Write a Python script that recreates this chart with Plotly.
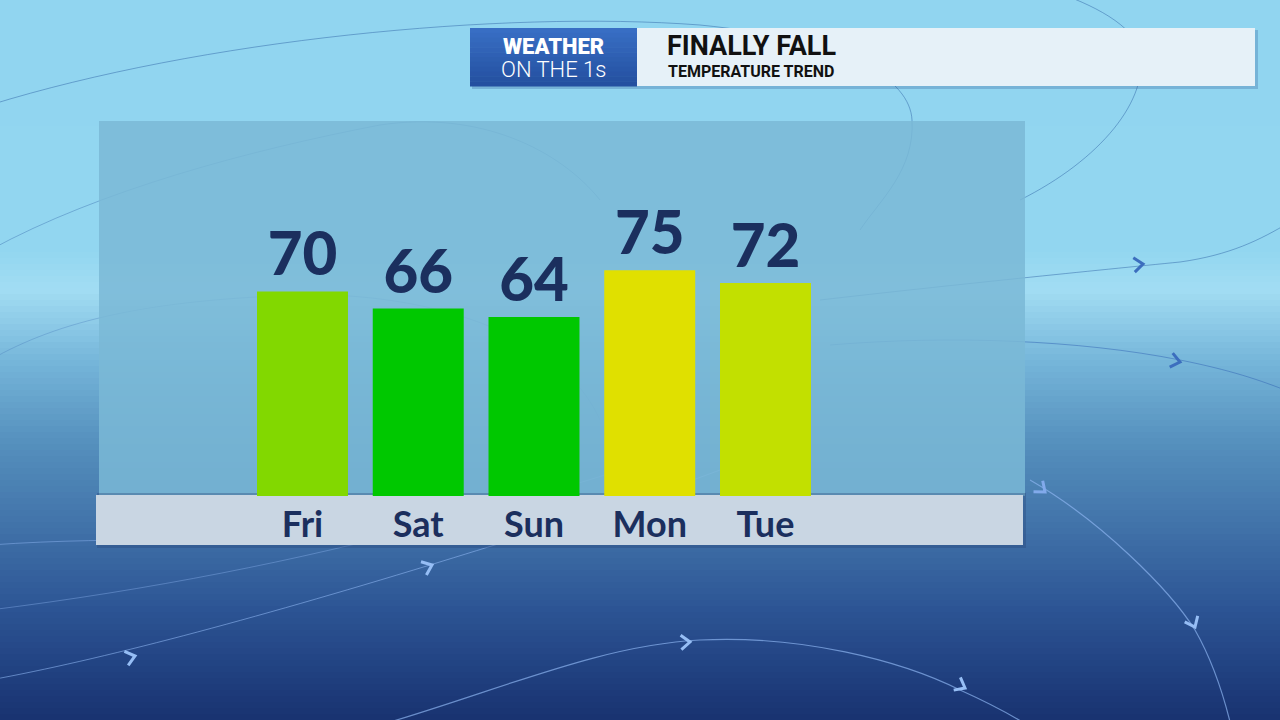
import math
import plotly.graph_objects as go

days = ["Fri", "Sat", "Sun", "Mon", "Tue"]
temps = [70, 66, 64, 75, 72]
bar_colors = ["#82d800", "#00c800", "#00c800", "#e0e000", "#c2e000"]
title_main = "FINALLY FALL"
title_sub = "TEMPERATURE TREND"
brand_top = "WEATHER"
brand_bottom = "ON THE 1s"

W, H = 1280, 720
NAVY = "#1b2f5e"

def px(x):
    return x / W

def py(y):
    return 1 - y / H

def lerp(c1, c2, t):
    return tuple(int(round(a + (b - a) * t)) for a, b in zip(c1, c2))

# background gradient stops (pixel y, rgb)
stops = [(0, (145, 213, 240)), (250, (146, 214, 240)), (290, (162, 221, 243)),
         (360, (118, 182, 218)), (440, (86, 145, 190)), (530, (64, 113, 168)),
         (610, (44, 84, 148)), (720, (24, 50, 112))]

# decorations live on the first (hidden, full-frame) subplot x/y in pixel units
shapes = []
step = 6
for y0 in range(0, H, step):
    ym = y0 + step / 2
    for i in range(len(stops) - 1):
        if stops[i][0] <= ym <= stops[i + 1][0]:
            t = (ym - stops[i][0]) / (stops[i + 1][0] - stops[i][0])
            c = lerp(stops[i][1], stops[i + 1][1], t)
            break
    shapes.append(dict(type="rect", xref="x", yref="y", layer="below",
                       x0=-5, x1=W + 5, y0=y0, y1=y0 + step + 0.5,
                       fillcolor="rgb(%d,%d,%d)" % c, line=dict(width=0)))

streams = [
    ("M -10 105 C 200 40, 500 10, 700 25 C 850 40, 910 80, 912 120 C 915 170, 880 200, 860 230", "rgba(40,90,160,0.45)", 1),
    ("M -10 250 C 100 190, 250 150, 380 125 C 480 110, 560 150, 600 200", "rgba(40,90,160,0.35)", 1),
    ("M -10 360 C 60 320, 150 300, 300 295 C 420 292, 560 330, 600 420", "rgba(60,110,180,0.3)", 1),
    ("M 1020 200 C 1100 160, 1150 100, 1140 50 C 1130 20, 1080 0, 1050 -10", "rgba(40,90,160,0.45)", 1),
    ("M 820 300 C 950 285, 1100 270, 1180 262 C 1230 255, 1260 240, 1290 222", "rgba(40,90,160,0.45)", 1),
    ("M 830 345 C 950 335, 1080 340, 1180 360 C 1230 370, 1260 380, 1290 392", "rgba(50,100,180,0.5)", 1),
    ("M -10 680 C 100 660, 250 620, 430 565 C 560 525, 640 500, 720 470", "rgba(140,180,240,0.6)", 1),
    ("M -10 610 C 150 590, 300 560, 430 525 C 500 505, 560 490, 620 470", "rgba(140,180,240,0.4)", 1),
    ("M 380 725 C 500 690, 600 645, 700 640 C 800 635, 900 660, 960 690 C 1000 708, 1020 720, 1035 730", "rgba(140,180,240,0.7)", 1.2),
    ("M 1030 480 C 1100 520, 1170 590, 1195 630 C 1215 665, 1225 700, 1232 730", "rgba(140,180,240,0.7)", 1.2),
    ("M -10 545 C 60 540, 120 540, 180 540", "rgba(140,180,240,0.5)", 1),
]
for path, col, w in streams:
    shapes.append(dict(type="path", xref="x", yref="y", layer="below", path=path,
                       line=dict(color=col, width=w)))

arrows = [(135, 656, -15, (150, 190, 245)), (432, 565, -22, (150, 190, 245)),
          (690, 642, -3, (150, 190, 245)), (965, 688, 28, (150, 190, 245)),
          (1195, 627, 65, (150, 190, 245)), (1045, 492, 40, (130, 170, 235)),
          (1180, 362, 12, (60, 110, 190)), (1143, 264, -6, (60, 110, 190))]
for ax_, ay_, ang, col in arrows:
    a = math.radians(ang)
    s = 9
    def rot(dx, dy):
        return ax_ + dx * math.cos(a) - dy * math.sin(a), ay_ + dx * math.sin(a) + dy * math.cos(a)
    p1 = rot(-s, -s * 0.8)
    p2 = rot(0, 0)
    p3 = rot(-s, s * 0.8)
    shapes.append(dict(type="path", xref="x", yref="y", layer="below",
                       path="M %.1f %.1f L %.1f %.1f L %.1f %.1f" % (p1 + p2 + p3),
                       line=dict(color="rgb(%d,%d,%d)" % col, width=3)))

# chart panel
shapes.append(dict(type="rect", xref="x", yref="y", layer="below",
                   x0=99, x1=1025, y0=121, y1=496,
                   fillcolor="rgba(122,184,214,0.85)", line=dict(width=0)))
# label strip shadow + strip
shapes.append(dict(type="rect", xref="x", yref="y", layer="below",
                   x0=97, x1=1026, y0=493, y1=548,
                   fillcolor="rgba(40,70,120,0.35)", line=dict(width=0)))
shapes.append(dict(type="rect", xref="x", yref="y", layer="below",
                   x0=96, x1=1023, y0=495, y1=545,
                   fillcolor="#c9d6e3", line=dict(width=0)))

# header
shapes.append(dict(type="rect", xref="paper", yref="paper", layer="above",
                   x0=px(472), x1=px(1258), y0=py(89), y1=py(30),
                   fillcolor="rgba(40,80,140,0.25)", line=dict(width=0)))
shapes.append(dict(type="rect", xref="paper", yref="paper", layer="above",
                   x0=px(637), x1=px(1255), y0=py(86), y1=py(28),
                   fillcolor="#e6f1f8", line=dict(width=0)))
for i in range(12):
    y0 = 28 + i * 58 / 12
    c = lerp((56, 110, 196), (36, 80, 160), i / 11)
    shapes.append(dict(type="rect", xref="paper", yref="paper", layer="above",
                       x0=px(470), x1=px(637), y0=py(y0 + 58 / 12 + 0.5), y1=py(y0),
                       fillcolor="rgb(%d,%d,%d)" % c, line=dict(width=0)))

fig = go.Figure()
fig.add_trace(go.Scatter(x=[0, W], y=[0, H], xaxis="x", yaxis="y", mode="markers",
                         marker=dict(opacity=0), hoverinfo="skip", showlegend=False))
fig.add_trace(go.Bar(
    x=days, y=temps, xaxis="x2", yaxis="y2",
    marker=dict(color=bar_colors, line=dict(width=0)),
    text=[str(t) for t in temps], textposition="outside", constraintext="none",
    cliponaxis=False,
    textfont=dict(family="Lato", size=60, color=NAVY, weight=900),
    hoverinfo="skip",
))

annotations = [
    dict(text=brand_top, x=px(553), y=py(47), xref="paper", yref="paper", showarrow=False,
         font=dict(family="Roboto", size=22, color="white", weight=900), xanchor="center", yanchor="middle"),
    dict(text=brand_bottom, x=px(553), y=py(70), xref="paper", yref="paper", showarrow=False,
         font=dict(family="Roboto", size=22, color="white", weight=300), xanchor="center", yanchor="middle"),
    dict(text=title_main, x=px(665), y=py(46), xref="paper", yref="paper", showarrow=False,
         font=dict(family="Roboto", size=27, color="#111111", weight=700), xanchor="left", yanchor="middle"),
    dict(text=title_sub, x=px(666), y=py(72), xref="paper", yref="paper", showarrow=False,
         font=dict(family="Roboto", size=16, color="#111111", weight=700), xanchor="left", yanchor="middle"),
]

fig.update_layout(
    width=W, height=H, margin=dict(l=0, r=0, t=0, b=0),
    paper_bgcolor="#92d5f0", plot_bgcolor="rgba(0,0,0,0)",
    showlegend=False, bargap=0.214,
    shapes=shapes, annotations=annotations,
    xaxis=dict(domain=[0, 1], range=[0, W], visible=False, fixedrange=True),
    yaxis=dict(domain=[0, 1], range=[H, 0], visible=False, fixedrange=True),
    xaxis2=dict(domain=[px(99), px(1025)], range=[-1.758, 6.242], showgrid=False, anchor="y2",
                zeroline=False, showline=False, ticks="", ticklabelstandoff=4,
                tickfont=dict(family="Lato", size=36, color=NAVY, weight=700), fixedrange=True),
    yaxis2=dict(domain=[py(496), py(121)], range=[22, 110], showgrid=False, zeroline=False,
                anchor="x2", showticklabels=False, showline=False, fixedrange=True),
)

fig.write_html("out.html", config={"displayModeBar": False},
               post_script="document.body.style.margin='0';document.body.style.overflow='hidden';")
